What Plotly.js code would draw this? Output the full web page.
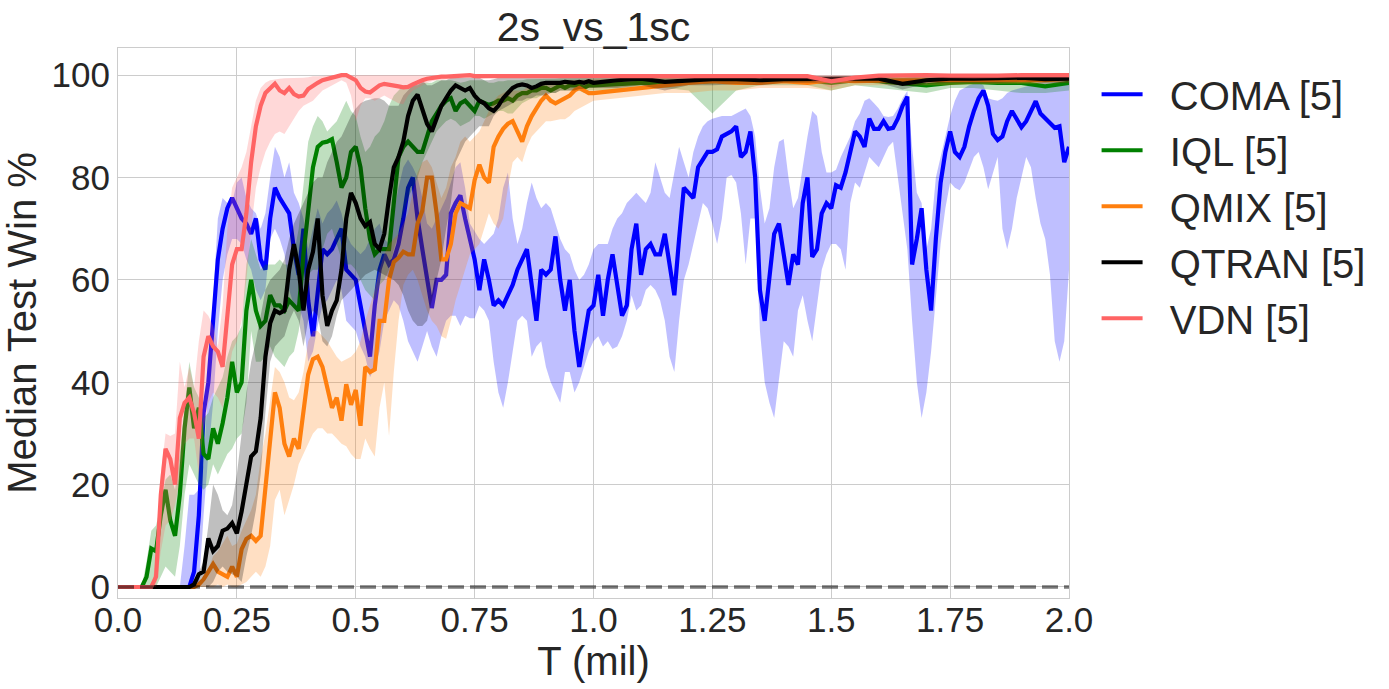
<!DOCTYPE html>
<html>
<head>
<meta charset="utf-8">
<script src="https://cdn.plot.ly/plotly-3.0.1.min.js"></script>
<style>
  body{margin:0;background:#fff;}
  #graph{width:1389px;height:689px;}
</style>
</head>
<body>
<div id="graph"></div>
<script>
// time axis, in millions of steps
let tComa = [];
for(let i = 0; i <= 200; i++){ tComa.push(i / 100); }
let tOther = [];
for(let i = 0; i <= 100; i++){ tOther.push(i / 100); }
for(let i = 21; i <= 40; i++){ tOther.push(i / 20); }

let seriesNames = ["COMA [5]", "IQL [5]", "QMIX [5]", "QTRAN [5]", "VDN [5]"];
let zeroLevel = 0;

//COMA (sampled every 0.01)
let comaMed = [0,0,0,0,0,0,0,0,0,0,0,0,0,0,0,0,
    3,14,34,40,52,64,70,74,76,74,
    72,71,69,72,64,62,72,78,76,74.5,
    73,66,61,70,56,49,58,66,65,66,
    68,70,62,61,60,55,50,45,55,62,
    65,63,64,67,72,78,80,72,66,60,
    54.5,60,60,61,73,75,76.5,72,68,64,
    58,64,60,55,56,55,57,59,62,64,
    66,59,52,62,61,62,68.5,60,54,60,
    50,43,49,54,55,61,53,60,65,59,
    53,55,66,71,61,66,67,65,65,69,
    63,57,68,78,77,76,82,83.5,85,85,
    85.5,88,88.5,89,90,84,85,89,80,58,
    52,61,69,71,65,59,65,63,75,80,
    64.5,66,73,75,74,78.5,78,81,85,89,
    88,86,91.5,89.5,89.5,91,89.5,89.7,91.5,94,
    95.8,63,68,74,62,54,68,79,85,89,
    85,84,86,90,93,95.5,97,94,88.5,87.3,
    88,91,93,91.5,89.8,91,93,94.9,92.5,91.6,
    90.5,89.7,90,83,86];
let comaHi = [0,0,0,0,0,0,0,0,0,0,0,0,0,0,
    8,18,
    18,19,24,40,56,72,76,75,75,79,
    80,76,74,73,70,73,80,86,84,80,
    83,77,75,72,66,70,74,71,73,74,
    75.5,73,69,67,66,65,66,68,70,71,
    68,67,73,78,82,83.5,82,80,76,71,
    70,72,74,76,79,82,83,78,71,69.5,
    68,67,68,69,72,78,81,72,67,70,
    75,79,76,74,75,74,71,68,66,65,
    62,60,61,63,66,67,67,67,70,72,
    73,75,76,77,76,75,77,83,80,77,
    76,81,86,83,80,85,88,90,91,91.5,
    91.8,92,92,92,92.5,93,93.5,92,88,78,
    71,74,82,87,87.5,80,74,76,82,88,
    93,92,85,81,81,81.5,84,86,88,91,
    92.5,95,95.5,94.5,93.5,92,91.8,92,93.5,95.5,
    96.9,86,77,75,66,70,80,84,88,92,
    95,97,97.5,98,98.3,98.6,98,95.5,95.2,95,
    95.5,96.5,97,97.3,97.6,97.8,98,98.5,98.6,98.5,
    98.5,98.6,98.8,99,99];
let comaLo = [0,0,0,0,0,0,0,0,0,0,0,0,0,0,0,0,0,0,
    14,26,36,50,60,65,68,68,
    67,64,62,58,56,58,68,70,68,65,
    58,55,55,52,44,46,51,55,56,58,
    60,58,52,51,50,47,45,41,43,46,
    52,54,56,55,52,48,46,44,47,50,
    47,45,49,52,53,53,51,53,52.5,52.5,
    55,54,52,44,38,35,40,46,52,53,
    52,45,47,48,43,40,38,36,42,42,
    38,40,43,46,48,49,47,48,46.5,47,
    49,52,57,54,55,58,59,58,56,52,
    45,42,52,60,63,67,71,75,74,71,
    67,72,80,80.5,79,73,63,72,72,50,
    40,36,33,40,48,47,45,54,57,52,
    48,55,62,65,67,67,66,62,75,79,
    78,81,84,83,82,84,86,87,80,72,
    66,52,40,33,38,46,57,67,74,79,
    78,77.5,79,81.5,84,85,82,77.7,81,84,
    70,66,70,76,80,84,82,76,71,68,
    61,48,44,48,62];

//IQL (0.01 up to 1.0, then every 0.05)
let iqlMed = [0,0,0,0,0,0,
    2,7.5,7,14,19,13,10,18,31,39,
    31,35,26,25,31,28,32,37,44,38,
    40,54,60,54,51,52,57,55,55,54,
    56,55,54,65,74,82,86,86.8,87,87.5,
    83,78,80,85,86,82,74,68,65,66,
    66,66,75,84,86,87,86,85,85,88,
    91,92.5,94,95,95.5,93,94.5,95,94,93,
    95,94.5,94.2,94.5,95,95,95.5,95,96,96.5,
    96.5,97,97,97.5,97.5,97,97.5,98,97.5,98,
    98,98,97.5,98,98,
    98.3,98.5,98.5,98.7,98.8,99,98.8,99,99,98.5,99,98.8,98.5,98,98.5,98.7,98.5,98.5,97.8,98.5];
let iqlHi = [0,0,0,0,0,0,
    5,11,12,16,21,22,19,26,35,44,
    39,37,33,34,37,39,41,45,48,49,
    51,63,68,65,62,63,63,63,64,63,
    63,65,70,79,87,90,92,91,89,90,
    91,93,95,93,92,88,85,86,88,89,
    91,94,96,97,98,98,98,98,98.5,98.5,
    98.5,99,99,99,99,98.8,98.5,98.7,99,99,
    99,99,98.5,98.5,98.8,98.8,99,99,99,99,
    99.2,99.2,99.2,99.2,99.2,99.3,99.3,99.4,99.4,99.4,
    99.5,99.5,99.5,99.5,99.5,
    99.5,99.6,99.6,99.6,99.7,99.7,99.7,99.7,99.8,99.7,99.8,99.8,99.7,99.6,99.7,99.8,99.8,99.8,99.7,99.8];
let iqlLo = [0,0,0,0,0,0,0,0,0,
    2,4,3,2,8,18,24,
    22,20,19,20,24,22,24,26,27,29,
    30,36,50,44,44,45,47,45,44,43,
    45,46,50,57,61,62,62,66,69,70,
    67,64,63,63,62,60,58,57,56,59,
    60,62,66,69,73,76,78,80,83,85,
    87,89,90,91,91.5,91,90,90.5,91,92,
    92,91.5,92,92.5,93,93,92.5,92.5,93.5,94.5,
    95,95.5,95.5,96,96.5,96.5,96.5,97,97,97,
    97,97,96.5,97,97,
    97,97.5,97.5,97,92.5,97,98,98,98,97,98,97.5,97,96.5,97.5,97.5,97,96.5,96.5,97];

//QMIX
let qmixMed = [0,0,0,0,0,0,0,0,0,0,0,0,0,0,0,0,0,
    0.5,1.5,3,4.5,3,2.5,2,4,2,
    7.4,9.4,10,9,10,20,30,38,35,28,
    25.5,29,27,34,41.5,44.5,45,43,39,35,
    37,32.5,39.6,35.6,38.5,31.5,43,42,42.5,52,
    52,60,63.5,64.3,65.5,65,65,71,73.5,80,
    80,73,64,64,67,73,75,74.5,74,79.5,
    82.5,80,79,86,88,89.5,90.5,91,89,87,
    90,92,93.5,95,96,95,94.5,95,95.5,96,
    97,97.5,97,96.5,96.5,
    97,97.5,98.2,98.5,98.8,98.5,98.5,98.8,98.5,99,98.8,99,99,99,99,99.2,99,99.2,99,99.3];
let qmixHi = [0,0,0,0,0,0,0,0,0,0,0,0,0,0,0,0,0,
    0.5,2,3.5,6,7,8.5,10,8,8.5,
    11,13,15,18,25,30,37,43,42,40,
    37,36.5,38,42,48,50,50,49,48,46.5,
    45,44,44.5,45,46,48,52,55,58,62,
    65,67,68,69,71,73,77,81,83,83.5,
    82,79,76,78,82,84,87,88,87,88,
    89,91,93,95,96,96.5,97,97,97,97,
    97.5,97.8,98,98.2,98.3,98.5,98.5,98.7,98.8,99,
    99,99.1,99.1,99.2,99.2,
    99.3,99.4,99.5,99.6,99.6,99.6,99.7,99.7,99.7,99.7,99.8,99.8,99.8,99.8,99.8,99.8,99.8,99.8,99.8,99.8];
let qmixLo = [0,0,0,0,0,0,0,0,0,0,0,0,0,0,0,0,0,0,0,0,
    0,0.5,0,0.5,0,0,0.5,1,2,3,
    2,4,8,17,19,14,17,20,24,26,
    28,30,31,31,30,30,29,28,27.5,26,
    25,25,29,27,25.5,35,40,29.5,42,52,
    59,61,62,60,57,54,52,51,49,48.5,
    52,56,59,62,65,66,67,70,73,71,
    70,72,78,83,84,83,86,88,89,90,
    91,91,91.2,91.4,91.4,92,93,93.5,94,94.5,
    95,
    95.5,96,96.5,96.5,97,97,97.5,97.5,97.5,97,98,98,98,98,98,98.2,98.3,98.3,98.3,98.5];

//QTRAN
let qtranMed = [0,0,0,0,0,0,0,0,0,0,0,0,0,0,0,0,
    0.5,2.5,3,9.5,7,8,11,11.4,12.5,10.5,
    14.8,20,25.5,26.5,33,45,51.5,54,53.5,54,
    62,67,62,54,62,65.5,72,57,51,54,
    56,62,72,77,75,72,70.5,71.3,67,66,
    69,76,82,84,87,92,95,96.2,93.5,90.5,
    89,91.5,94,95.5,97,98,97.5,97,97.5,96,
    95,94.5,93.5,93,94,95.5,96.5,97.5,98,98.2,
    98,97.5,97.8,98.3,98.5,98.5,98.3,98.5,98.7,98.5,
    98.5,98.7,98.5,98.8,98.5,
    99,99.3,98.7,99,99.2,99.2,99,99.2,99.3,99.2,99.3,99.3,98.3,99,99.3,99.3,99.3,99.5,99.2,99.3];
let qtranHi = [0,0,0,0,0,0,0,0,0,0,0,0,0,0,0,0,
    1,3,5,12,20,18,15,14,16,22,
    30,38,44,48,53,58,60,61,62,64,
    68,71,73,75,77,79,80,80,83,85,
    87,88,90,92,93.5,94.5,95,95.3,95.5,95.5,
    95,94,94,94,96,97,98,99,99,98,
    98,98.5,99,99,99.5,99.5,99.5,99.5,99.5,99.5,
    99.5,99,99,99.2,99.5,99.5,99.5,99.6,99.6,99.6,
    99.6,99.6,99.6,99.7,99.7,99.7,99.7,99.7,99.7,99.7,
    99.7,99.7,99.7,99.7,99.7,
    99.8,99.8,99.7,99.8,99.8,99.8,99.8,99.8,99.8,99.8,99.8,99.8,99.5,99.8,99.8,99.8,99.8,99.9,99.8,99.8];
let qtranLo = [0,0,0,0,0,0,0,0,0,0,0,0,0,0,0,0,0,0,0,0,
    1,3,4,3,2.5,2,
    1,6,10,15,22,34,44,47,48,49,
    52,54,52,47,52,54,53,48,47,49,
    53,56,57,58,59,60,61,61.5,62,61.5,
    61,60.5,60,59,57,54,52,51,51,52,
    56,60,64,70,75,83,85,87,88,89,
    90,90,90,92,93,93.5,94,94.5,95,95,
    95.5,95.5,96,96,96,96.5,96.5,97,97,97,
    97,97.3,97.3,97.5,97.5,
    97.5,98,97,98,98,98.2,98,98.5,98.5,98.5,98.5,98.5,97.2,98.3,98.5,98.5,98.5,98.7,98.5,98.5];

//VDN
let vdnMed = [0,0,0,0,0,0,0,0,
    2,18,27,25,20,33,36,37,
    34,29,45,49,47,46,43,53,63,66,
    66,73,83,90,94,96.5,97.5,98.3,97,96.5,
    97.5,96.3,95.8,96,97.3,98,98.5,99,99.3,99.5,
    99.8,100,100,99.5,99,97.5,96.8,96.6,97.3,98,
    98.3,98.2,98,97.8,97.6,97.7,98.2,98.7,99,99.3,
    99.5,99.5,99.7,99.7,99.8,99.8,99.8,100,100,99.8,
    99.8,99.8,99.8,99.9,99.9,99.9,100,100,100,99.9,
    99.9,99.9,99.9,100,100,100,100,100,100,99.9,
    99.9,99.9,99.9,99.9,100,
    100,100,99.8,99.9,100,100,99.9,99.8,99.8,98.8,99.5,99.9,100,100,99.9,99.8,99.9,100,100,100];
let vdnHi = [0,0,0,0,0,0,0,0,
    5,22,30,29.5,30,44,39,43,
    39,48,54,53,51,47,55,70,78,80,
    82,85,90,95,97.5,98.5,99,99.2,99.3,99.4,
    99.4,99.5,99.5,99.5,99.6,99.8,99.8,99.9,99.9,100,
    100,100,100,100,100,100,100,100,100,100,
    100,100,100,100,100,100,100,100,100,100,
    100,100,100,100,100,100,100,100,100,100,
    100,100,100,100,100,100,100,100,100,100,
    100,100,100,100,100,100,100,100,100,100,
    100,100,100,100,100,
    100,100,100,100,100,100,100,100,100,100,100,100,100,100,100,100,100,100,100,100];
let vdnLo = [0,0,0,0,0,0,0,0,0,
    7,12,13,16,21,28,29,
    29,22,31,36,38,37,35,40,46,48,
    52,60,70,78,82,85,87,88.5,89,88.5,
    90,91.5,93,94,94.5,95,96,97,97.5,98,
    98.5,99,98.5,96,91,94,95.5,95.5,95,95.5,
    96,95.5,95,94.5,94.3,96,97,97.5,98,98.5,
    98.8,99,99,99.2,99.3,99.3,99.4,99.5,99.5,99.4,
    99.3,99.4,99.5,99.5,99.5,99.5,99.5,99.5,99.5,99.5,
    99.5,99.5,99.5,99.5,99.5,99.5,99.5,99.5,99.5,99.5,
    99.5,99.5,99.5,99.5,99.5,
    99.5,99.5,99.3,99.4,99.5,99.5,99.4,99.3,99.3,97.5,99,99.4,99.5,99.5,99.4,99.3,99.4,99.5,99.5,99.5];

let xTickVals = [0, 0.25, 0.5, 0.75, 1.0, 1.25, 1.5, 1.75, 2.0];
let xTickText = ["0.0", "0.25", "0.5", "0.75", "1.0", "1.25", "1.5", "1.75", "2.0"];
let yTickVals = [0, 20, 40, 60, 80, 100];

let lineColors = ["#0000ff", "#008000", "#ff7f0e", "#000000", "#ff6464"];
let fillColors = ["rgba(0,0,255,0.25)", "rgba(0,128,0,0.25)", "rgba(255,127,14,0.25)", "rgba(0,0,0,0.25)", "rgba(255,100,100,0.25)"];

let allSeries = [
    {t: tComa, med: comaMed, hi: comaHi, lo: comaLo},
    {t: tOther, med: iqlMed, hi: iqlHi, lo: iqlLo},
    {t: tOther, med: qmixMed, hi: qmixHi, lo: qmixLo},
    {t: tOther, med: qtranMed, hi: qtranHi, lo: qtranLo},
    {t: tOther, med: vdnMed, hi: vdnHi, lo: vdnLo}
];

let traces = [];
for(let i = 0; i < allSeries.length; i++){
    let s = allSeries[i];
    traces.push({
        x: s.t, y: s.lo, mode: "lines", line: {width: 0},
        showlegend: false, hoverinfo: "skip", legendgroup: "g" + i
    });
    traces.push({
        x: s.t, y: s.hi, mode: "lines", line: {width: 0},
        fill: "tonexty", fillcolor: fillColors[i],
        showlegend: false, hoverinfo: "skip", legendgroup: "g" + i
    });
    traces.push({
        // two no-break spaces push the label away from the swatch, like the original
        x: s.t, y: s.med, mode: "lines", name: "\u00a0\u00a0" + seriesNames[i],
        line: {color: lineColors[i], width: 4.2},
        legendgroup: "g" + i
    });
}

//dashed baseline
traces.push({
    x: [tComa[0], tComa[tComa.length - 1]], y: [zeroLevel, zeroLevel],
    mode: "lines", showlegend: false, hoverinfo: "skip",
    line: {color: "rgba(0,0,0,0.53)", width: 3.5, dash: "16px,6px"}
});

let layout = {
    width: 1389, height: 689,
    margin: {l: 118, r: 320, t: 48, b: 91},
    paper_bgcolor: "#ffffff", plot_bgcolor: "#ffffff",
    font: {family: "Liberation Sans, Arial, sans-serif", color: "#262626", size: 35},
    title: {
        text: "2s_vs_1sc", x: 0.5, xref: "paper",
        y: 1 - 27 / 689, yref: "container", yanchor: "middle",
        font: {size: 41, color: "#262626"}
    },
    xaxis: {
        range: [0, 2.0], tickvals: xTickVals, ticktext: xTickText,
        showgrid: true, gridcolor: "#cccccc", gridwidth: 1,
        zeroline: false, showline: true, mirror: true, linecolor: "#cccccc", linewidth: 1,
        ticks: "", tickfont: {size: 35}, ticklabelstandoff: -9,
        title: {text: "T (mil)", font: {size: 40}, standoff: 0}
    },
    yaxis: {
        range: [-2.15, 105.3], tickvals: yTickVals,
        showgrid: true, gridcolor: "#cccccc", gridwidth: 1,
        zeroline: false, showline: true, mirror: true, linecolor: "#cccccc", linewidth: 1,
        ticks: "", tickfont: {size: 35},
        title: {text: "Median Test Win %", font: {size: 40}, standoff: 4}
    },
    legend: {
        x: 1.029, xanchor: "left", y: 0.975, yanchor: "top",
        font: {size: 40, color: "#262626"},
        bgcolor: "rgba(255,255,255,0)", borderwidth: 0,
        tracegroupgap: 1, itemwidth: 41
    },
    showlegend: true
};

Plotly.newPlot("graph", traces, layout, {displayModeBar: false, staticPlot: true});
</script>
</body>
</html>
